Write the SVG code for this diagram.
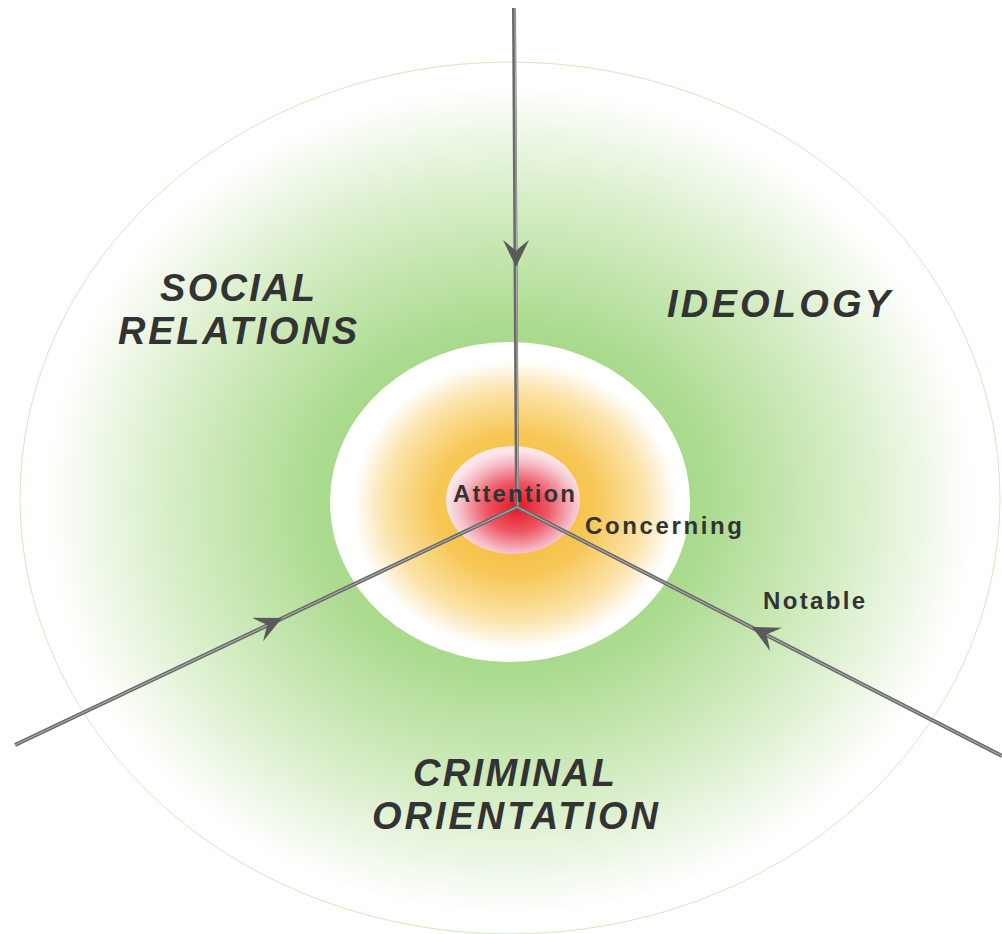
<svg xmlns="http://www.w3.org/2000/svg" width="1002" height="934" viewBox="0 0 1002 934">
<defs>
<radialGradient id="gGreen" cx="510" cy="500" r="490" gradientUnits="userSpaceOnUse" gradientTransform="translate(510 500) scale(1 0.89) translate(-510 -500)">
<stop offset="0" stop-color="#94d070"/>
<stop offset="0.4" stop-color="#abdb8f"/>
<stop offset="0.7" stop-color="#d8eec8"/>
<stop offset="0.95" stop-color="#ffffff"/>
</radialGradient>
<radialGradient id="gOrange" cx="515" cy="505" r="180" gradientUnits="userSpaceOnUse" gradientTransform="translate(515 505) scale(1 0.89) translate(-515 -505)">
<stop offset="0" stop-color="#f4b22a"/>
<stop offset="0.45" stop-color="#f7c858"/>
<stop offset="0.72" stop-color="#fbe3aa"/>
<stop offset="0.9" stop-color="#ffffff"/>
<stop offset="1" stop-color="#ffffff"/>
</radialGradient>
<radialGradient id="gRed" cx="517" cy="507" r="70" gradientUnits="userSpaceOnUse" gradientTransform="translate(517 507) scale(1 0.8) translate(-517 -507)">
<stop offset="0" stop-color="#e5141f"/>
<stop offset="0.45" stop-color="#ee5866"/>
<stop offset="0.8" stop-color="#f6bcc6"/>
<stop offset="1" stop-color="#fbe6ea"/>
</radialGradient>
<path id="ah" d="M0,0 L-27,-13 Q-20,-4 -16,0 Q-20,4 -27,13 Z" fill="#5a5a5a"/>
<style>
.big{font-family:"Liberation Sans",Arial,sans-serif;font-weight:bold;font-style:italic;font-size:38px;fill:#333333}
.small{font-family:"Liberation Sans",Arial,sans-serif;font-weight:bold;font-size:24px;fill:#333333}
.ln{stroke:#6a6a6a;stroke-width:4;fill:none}
.lnh{stroke:#b8b8b8;stroke-width:1;fill:none}
</style>
</defs>
<rect width="1002" height="934" fill="#ffffff"/>
<g id="outer">
<ellipse cx="510" cy="498" rx="490" ry="436" fill="url(#gGreen)" stroke="#d3eac0" stroke-width="1"/>
</g>
<g id="middle">
<ellipse cx="510" cy="502" rx="180" ry="160" fill="url(#gOrange)"/>
</g>
<g id="inner">
<ellipse cx="513" cy="500" rx="67" ry="54" fill="url(#gRed)"/>
</g>
<g id="connectors">
<line class="ln" x1="514" y1="8" x2="517" y2="507"/>
<line class="lnh" x1="515" y1="8" x2="518" y2="507"/>
<line class="ln" x1="15" y1="745" x2="517" y2="507"/>
<line class="lnh" x1="15" y1="745" x2="517" y2="507"/>
<line class="ln" x1="1002" y1="756" x2="517" y2="507"/>
<line class="lnh" x1="1002" y1="756" x2="517" y2="507"/>
<use href="#ah" transform="translate(516 267) rotate(90)"/>
<use href="#ah" transform="translate(282 618) rotate(-25.4)"/>
<use href="#ah" transform="translate(752 627) rotate(207.2)"/>
</g>
<g id="social-relations">
<text class="big" x="160" y="301" textLength="155" lengthAdjust="spacing">SOCIAL</text>
<text class="big" x="118" y="344" textLength="239" lengthAdjust="spacing">RELATIONS</text>
</g>
<g id="ideology">
<text class="big" x="667" y="317" textLength="223" lengthAdjust="spacing">IDEOLOGY</text>
</g>
<g id="criminal-orientation">
<text class="big" x="413" y="786" textLength="202" lengthAdjust="spacing">CRIMINAL</text>
<text class="big" x="372" y="829" textLength="286" lengthAdjust="spacing">ORIENTATION</text>
</g>
<g id="attention">
<text class="small" x="453" y="502" textLength="122" lengthAdjust="spacing">Attention</text>
</g>
<g id="concerning">
<text class="small" x="585" y="534" textLength="157" lengthAdjust="spacing">Concerning</text>
</g>
<g id="notable">
<text class="small" x="763" y="609" textLength="102" lengthAdjust="spacing">Notable</text>
</g>
</svg>
